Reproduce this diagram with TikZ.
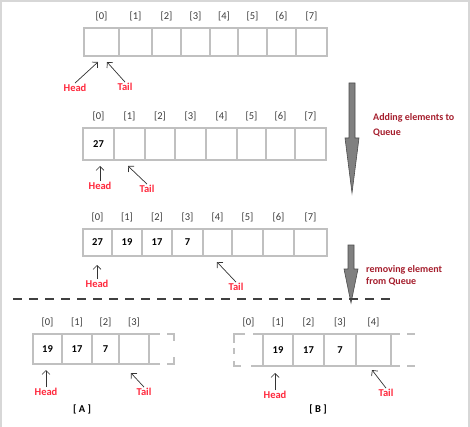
\documentclass[tikz,border=0pt]{standalone}
\usepackage{fontspec}
\setmainfont{Carlito}
\usetikzlibrary{arrows.meta,positioning}

\definecolor{cellgray}{RGB}{192,192,192}
\definecolor{headred}{RGB}{255,40,60}
\definecolor{notered}{RGB}{165,30,45}
\definecolor{idxgray}{RGB}{60,60,60}
\definecolor{framegray}{RGB}{215,215,215}
\definecolor{arrowgray}{RGB}{128,128,128}

\begin{document}
\begin{tikzpicture}[
  x=1pt,y=-1pt,
  cell/.style={draw=cellgray,line width=2.5pt,inner sep=0pt,outer sep=0pt},
  cellline/.style={draw=cellgray,line width=2.5pt},
  val/.style={inner sep=1pt,font=\fontsize{10.5}{12}\selectfont\bfseries},
  idx/.style={inner sep=1pt,text=idxgray,font=\fontsize{10.5}{12}\selectfont},
  ht/.style={inner sep=1pt,text=headred,font=\fontsize{10.5}{12}\selectfont\bfseries},
  ptr/.style={-{Straight Barb[length=4pt,width=8pt]},line width=0.7pt,black!80},
  note/.style={align=left,anchor=west,inner sep=0pt,text=notered,font=\fontsize{10}{15}\selectfont\bfseries},
  bigarr/.style={fill=arrowgray,draw=black!70,line width=0.6pt},
  divider/.style={black!75,line width=1.3pt,dash pattern=on 9pt off 7pt},
  tag/.style={inner sep=1pt,font=\fontsize{10.5}{12}\selectfont\bfseries}
]
\useasboundingbox (0,0) rectangle (470,427);
\draw[framegray,line width=2pt] (1,427) -- (1,1) -- (469,1) -- (469,427);

% empty queue
\foreach \l/\r [count=\k from 0] in {84/119,119/152,152/181,181/210,210/238,238/267,267/296,296/327}
  \node[cell,minimum width={\r-\l},minimum height=28pt] (p\k) at ({(\l+\r)/2},42) {};
\foreach \k in {0,...,7} \node[idx,above=6pt of p\k] (ip\k) {[\k]};
\node[ht] (head1) at (75,88) {Head};
\node[ht] (tail1) at (125,87) {Tail};
\coordinate (h1) at (98,62);
\coordinate (t1) at (107,62);
\draw[ptr] (head1.north) -- (h1);
\draw[ptr] (tail1.north) -- (t1);

% after one insert
\foreach \l/\r [count=\k from 0] in {83/114,114/145,145/175,175/206,206/237,237/266,266/295,295/326}
  \node[cell,minimum width={\r-\l},minimum height=32pt] (q\k) at ({(\l+\r)/2},144) {};
\foreach \k in {0,...,7} \node[idx,above=6pt of q\k] (iq\k) {[\k]};
\node[val] (qv0) at (q0) {27};
\node[ht] (head2) at (100,186) {Head};
\node[ht] (tail2) at (147,189) {Tail};
\coordinate (h2) at (100,166);
\coordinate (t2) at (128,166);
\draw[ptr] (head2.north) -- (h2);
\draw[ptr] (tail2.north) -- (t2);

% after four inserts
\foreach \l/\r [count=\k from 0] in {83/112,112/142,142/172,172/203,203/232,232/263,263/294,294/327}
  \node[cell,minimum width={\r-\l},minimum height=27pt] (r\k) at ({(\l+\r)/2},242.5) {};
\foreach \k in {0,...,7} \node[idx,above=6pt of r\k] (ir\k) {[\k]};
\foreach \k/\v in {0/27,1/19,2/17,3/7} \node[val] (rv\k) at (r\k) {\v};
\node[ht] (head3) at (97,284) {Head};
\node[ht] (tail3) at (236,287) {Tail};
\coordinate (h3) at (97,265);
\coordinate (t3) at (217,262);
\draw[ptr] (head3.north) -- (h3);
\draw[ptr] (tail3.north) -- (t3);

% big arrows and notes
\draw[bigarr] (349,83) -- (355,83) -- (355,138) -- (359,138) -- (352,193) -- (345,138) -- (349,138) -- cycle;
\node[note] (addnote) at (373,125.5) {Adding elements to\\Queue};
\draw[bigarr] (348,245) -- (354,245) -- (354,269) -- (358,269) -- (351,303) -- (344,269) -- (348,269) -- cycle;
\node[note] (remnote) at (366,276) {removing element\\[-3pt]from Queue};

\draw[divider] (13,299) -- (392,299);

% case A
\foreach \l/\r [count=\k from 0] in {33/62,62/92,92/119,119/149}
  \node[cell,minimum width={\r-\l},minimum height=30pt] (a\k) at ({(\l+\r)/2},349) {};
\foreach \k in {0,...,3} \node[idx,above=6pt of a\k] (ia\k) {[\k]};
\foreach \k/\v in {0/19,1/17,2/7} \node[val] (av\k) at (a\k) {\v};
\draw[cellline,dash pattern=on 11pt off 7pt on 14pt off 16pt on 14pt off 7pt on 11pt off 10pt]
  (a3.north east) -- ++(25,0) -- ++(0,30) -- ++(-25,0);
\node[ht] (headA) at (46,392) {Head};
\node[ht] (tailA) at (144,392) {Tail};
\coordinate (hA) at (46,370);
\coordinate (tA) at (131,373);
\draw[ptr] (headA.north) -- (hA);
\draw[ptr] (tailA.north) -- (tA);
\node[tag] (tagA) at (82,409) {[ A ]};

% case B
\node[cell,draw=none,minimum width=29pt,minimum height=32pt] (b0) at (248.5,350) {};
\foreach \l/\r [count=\k from 1] in {263/293,293/324,324/356,356/391}
  \node[cell,minimum width={\r-\l},minimum height=32pt] (b\k) at ({(\l+\r)/2},350) {};
\foreach \k in {0,...,4} \node[idx,above=6pt of b\k] (ib\k) {[\k]};
\foreach \k/\v in {1/19,2/17,3/7} \node[val] (bv\k) at (b\k) {\v};
\draw[cellline,dash pattern=on 20pt off 5pt on 6pt off 7pt on 12pt off 20pt]
  ([xshift=-18pt]b0.north east) -- (b0.north west) -- (b0.south west) -- ([xshift=-22pt]b0.south east);
\draw[cellline] (b0.north east) -- ++(-10,0) (b0.south east) -- ++(-12,0);
\draw[cellline] (b4.north east) -- ++(9,0) (b4.south east) -- ++(9,0);
\draw[cellline] ([xshift=16pt]b4.north east) -- ++(8,0) ([xshift=16pt]b4.south east) -- ++(8,0);
\node[ht] (headB) at (275,395) {Head};
\node[ht] (tailB) at (386,393) {Tail};
\coordinate (hB) at (275,373);
\coordinate (tB) at (372,370);
\draw[ptr] (headB.north) -- (hB);
\draw[ptr] (tailB.north) -- (tB);
\node[tag] (tagB) at (318,409) {[ B ]};
\end{tikzpicture}
\end{document}
